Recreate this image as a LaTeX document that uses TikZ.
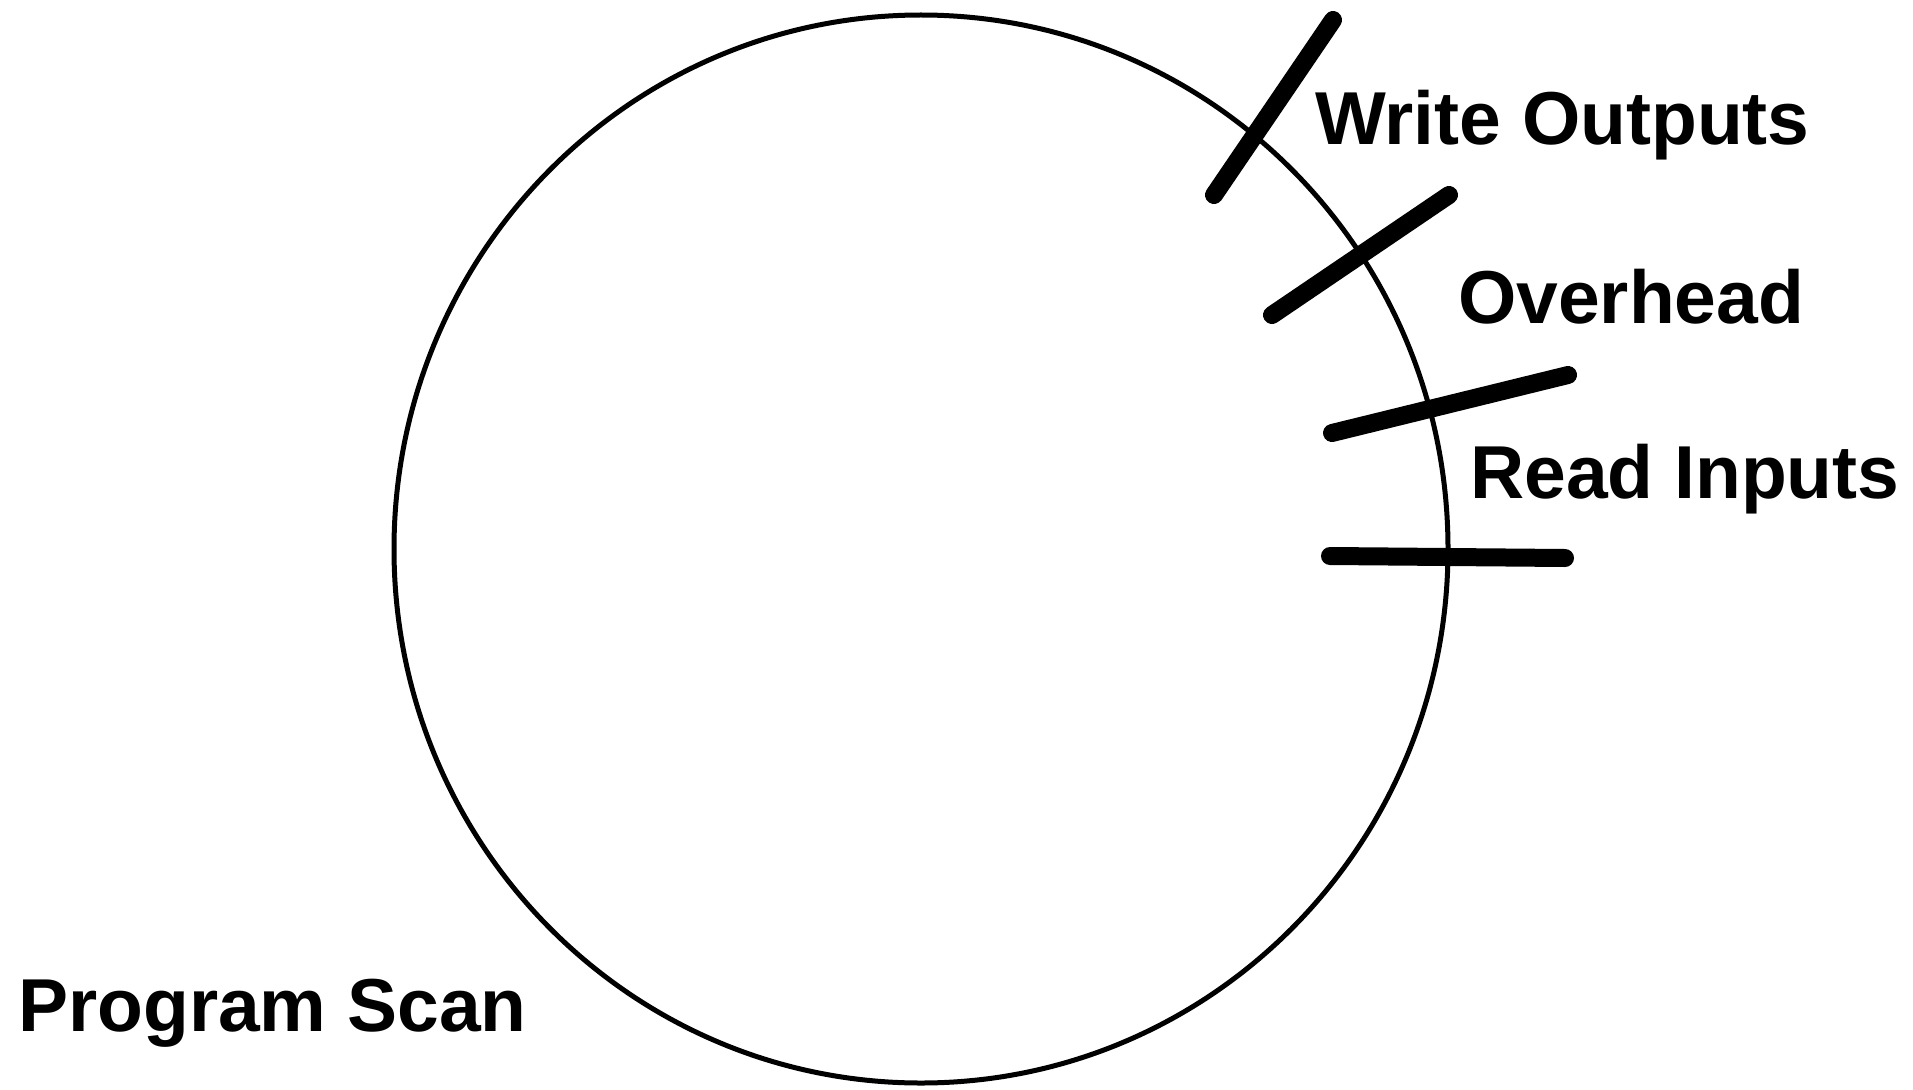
\documentclass[tikz,border=0pt]{standalone}
\usepackage{fontspec}
\usetikzlibrary{shapes.geometric}
\setmainfont{Liberation Sans}
\begin{document}
\begin{tikzpicture}[x=1pt,y=-1pt,
  lbl/.style={anchor=base west, inner sep=0pt, font=\fontsize{75}{80}\selectfont\bfseries},
  tickmark/.style={line width=18pt, line cap=round},
  ring/.style={line width=5pt}]
\useasboundingbox (0,0) rectangle (1913,1089);
\node[ring, draw, ellipse, minimum width=1054pt, minimum height=1068pt, inner sep=0pt] (scan) at (921,549) {};
% tick marks
\coordinate (w1) at (1214,195); \coordinate (w2) at (1333,20);
\coordinate (o1) at (1272,315); \coordinate (o2) at (1449,195);
\coordinate (r1) at (1332,433); \coordinate (r2) at (1568,375);
\coordinate (b1) at (1330,556); \coordinate (b2) at (1565,558);
\draw[tickmark] (w1) -- (w2);
\draw[tickmark] (o1) -- (o2);
\draw[tickmark] (r1) -- (r2);
\draw[tickmark] (b1) -- (b2);
% labels
\node[lbl] (wo) at (1315,144) {Write Outputs};
\node[lbl] (ov) at (1458,323) {Overhead};
\node[lbl] (ri) at (1470,498) {Read Inputs};
\node[lbl] (ps) at (18,1031) {Program Scan};
\end{tikzpicture}
\end{document}
